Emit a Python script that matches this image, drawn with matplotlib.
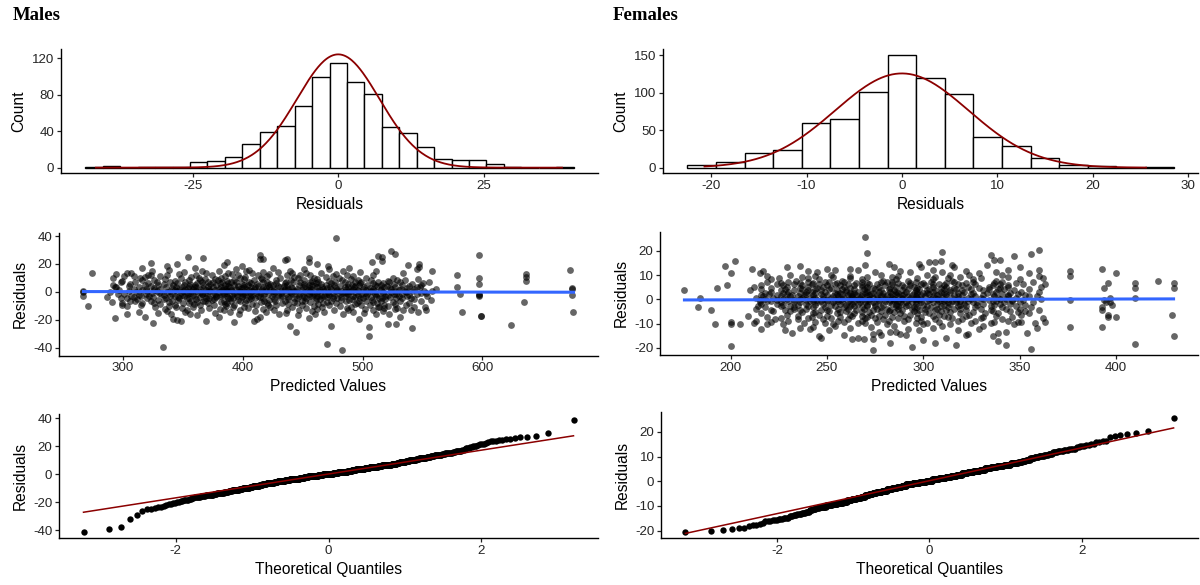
import numpy as np
import matplotlib
matplotlib.use("Agg")
import matplotlib.pyplot as plt
from statistics import NormalDist

plt.rcParams['font.family'] = ['Liberation Sans', 'DejaVu Sans']
plt.rcParams['axes.unicode_minus'] = False

# ---------------------------------------------------------------- data
bin_width = 3

male_bin_centers = [-42, -39, -36, -33, -30, -27, -24, -21, -18, -15, -12, -9, -6, -3,
                    0, 3, 6, 9, 12, 15, 18, 21, 24, 27, 30, 33, 36, 39]
male_bin_counts = [1, 2, 0, 1, 1, 1, 6, 7, 12, 26, 39, 46, 67, 99,
                   115, 94, 81, 44, 38, 23, 10, 8, 8, 4, 1, 0, 0, 1]

female_bin_centers = [-21, -18, -15, -12, -9, -6, -3, 0, 3, 6, 9, 12, 15, 18, 21, 24, 27]
female_bin_counts = [3, 8, 19, 24, 59, 65, 101, 150, 119, 98, 41, 29, 13, 4, 2, 0, 1]

# normal curves drawn over the histograms (mean, sd, peak height)
male_curve = (0.0, 7.1, 124.0)
female_curve = (0.0, 7.0, 125.5)

# residuals as a frequency table (ascending) ; predicted values listed in the same order
male_resid_values = [
    -41.7, -39.5, -37.7, -31.8, -29.0, -26.2,
    -25.25, -24.75, -24.25, -23.75, -23.25, -22.75, -22.25, -21.75, -21.25, -20.75, -20.25, -19.75,
    -19.25, -18.75, -18.25, -17.75, -17.25, -16.75, -16.25, -15.75, -15.25, -14.75, -14.25, -13.75,
    -13.25, -12.75, -12.25, -11.75, -11.25, -10.75, -10.25, -9.75, -9.25, -8.75, -8.25, -7.75,
    -7.25, -6.75, -6.25, -5.75, -5.25, -4.75, -4.25, -3.75, -3.25, -2.75, -2.25, -1.75,
    -1.25, -0.75, -0.25, 0.25, 0.75, 1.25, 1.75, 2.25, 2.75, 3.25, 3.75, 4.25,
    4.75, 5.25, 5.75, 6.25, 6.75, 7.25, 7.75, 8.25, 8.75, 9.25, 9.75, 10.25,
    10.75, 11.25, 11.75, 12.25, 12.75, 13.25, 13.75, 14.25, 14.75, 15.25, 15.75, 16.25,
    16.75, 17.25, 17.75, 18.25, 18.75, 19.25, 19.75, 20.25, 20.75, 21.25, 21.75, 22.25,
    22.75, 23.25, 23.75, 24.25, 24.75, 25.25, 25.75, 26.25, 26.75, 27.25, 29.5, 38.5]
male_resid_counts = [
    1, 1, 1, 1, 1, 1,
    1, 1, 1, 1, 1, 1, 1, 1, 1, 2, 1, 1,
    2, 2, 2, 2, 2, 2, 4, 5, 4, 5, 4, 4,
    6, 7, 6, 7, 6, 7, 7, 8, 7, 8, 8, 8,
    11, 11, 11, 11, 11, 12, 16, 17, 16, 17, 16, 17,
    19, 19, 19, 20, 19, 19, 16, 16, 15, 16, 15, 16,
    13, 14, 13, 14, 13, 14, 7, 8, 7, 8, 7, 7,
    6, 7, 6, 7, 6, 6, 4, 4, 4, 4, 3, 4,
    2, 2, 1, 2, 1, 2, 1, 2, 1, 2, 1, 1,
    1, 2, 1, 2, 1, 1, 1, 1, 1, 1, 1, 1]
male_pred = [
    483, 333, 470, 505, 444, 541,
    505, 439,
    474, 624,
    521, 528,
    325, 393,
    369, 348, 409,
    345, 412,
    342, 497, 293, 455,
    414, 380, 531, 318,
    599, 599, 446, 362,
    340, 484, 303, 522, 397, 460, 356, 511, 430,
    377, 501, 329, 436, 546, 313, 468, 389, 419,
    583, 676, 352, 492, 410, 337, 517, 458,
    553, 426, 488, 365, 534, 398, 447, 540, 476, 384, 509, 353, 437,
    417, 335, 462, 527, 502, 381, 529, 349, 453, 404, 518, 487, 372,
    490, 358, 423, 543, 514, 441, 392, 513, 327, 466, 401, 552, 344,
    271, 303, 459, 386, 521, 338, 481, 411, 364, 499, 428, 315, 536, 376, 449,
    393, 518, 343, 472, 421, 299, 506, 359, 438, 385, 527, 331, 463, 408, 494,
    299, 371, 445, 512, 326, 478, 402, 355, 539, 433, 387, 467, 316, 495, 420, 350,
    635, 470, 338, 415, 509, 291, 456, 382, 525, 362, 443, 398, 486, 323, 549, 427, 367, 503, 310, 452, 390, 474,
    341, 418, 497, 368, 531, 306, 449, 384, 515, 357, 435, 403, 482, 329, 557, 422, 374, 508, 346, 461, 396, 489,
    312, 438, 519, 376, 464, 334, 405, 543, 361, 491, 426, 298, 475, 389, 514, 347, 453, 410, 533, 369, 445, 320, 500,
    353, 479, 407, 528, 336, 461, 392, 516, 303, 443, 372,
    498, 417, 355, 540, 388, 466, 325, 507, 431, 364, 482,
    309, 451, 399, 523, 346, 470, 414, 287, 494, 378, 438,
    267, 597, 360, 486, 413, 530, 339, 458, 395, 511, 322,
    447, 381, 503, 351, 468, 424, 554, 307, 476, 400, 370,
    519, 433, 343, 492, 387, 456, 315, 537, 406, 462, 378,
    597, 675, 429, 358, 496, 383, 521, 334, 450, 408, 472,
    313, 539, 391, 465, 349, 504, 418, 377, 487, 301, 441,
    366, 526, 400, 455, 332, 510, 426, 395, 481, 354, 545,
    581, 597, 436, 319, 488, 402, 533, 366, 459, 384, 512, 341, 471,
    421, 296, 499, 375, 447, 528, 356, 411, 483, 330, 549, 393, 462,
    386, 517, 348, 440, 406, 553, 324, 475, 415, 368, 502, 432,
    267, 427, 353, 494, 380, 517, 311, 458, 403, 536, 364, 485, 439,
    337, 471, 398, 524, 289, 452, 416, 506, 345, 489, 372, 432, 558,
    320, 463, 391, 541, 357, 478, 408, 510, 386, 443, 328, 497, 425,
    267, 350, 482, 419, 535, 373, 456, 305, 508, 398, 444, 339, 490,
    412, 527, 361, 468, 387, 551, 326, 479, 435, 369, 515, 405, 297,
    454, 383, 530, 343, 496, 423, 377, 464, 316, 503, 390, 449,
    675, 435, 358, 500, 409, 524, 331, 467, 394, 543, 372,
    486, 416, 309, 457, 380, 515, 347, 438, 492, 364, 403,
    532, 319, 474, 426, 386, 509, 352, 445, 561, 397,
    675, 478, 341, 419, 523, 367, 455, 399, 506, 326, 441,
    384, 537, 354, 470, 410, 294, 493, 431, 375, 518,
    344, 462, 401, 548, 359, 485, 422, 313, 450, 389,
    579, 293, 466, 382, 527, 349, 440, 407, 501, 336, 473,
    417, 545, 361, 488, 396, 452, 323, 512, 429, 371,
    494, 355, 434, 520, 388, 460, 305, 481, 413, 539,
    292, 447, 378, 515, 342, 469, 404, 533, 360,
    491, 421, 318, 458, 393, 504, 351, 437, 549,
    385, 476, 329, 425, 510, 367, 455, 401, 497,
    597, 423, 356, 488, 399, 526, 334, 465, 412,
    541, 373, 451, 306, 498, 388, 435, 517, 362,
    474, 407, 550, 345, 461, 381, 428, 509, 321,
    448, 366, 513, 394, 477, 328, 436, 555, 383,
    499, 352, 420, 463, 310, 531, 405, 371, 485,
    442, 339, 522, 390, 456, 417, 298, 494, 375,
    636, 299, 458, 387, 521, 343, 472, 409, 535, 364, 496, 428, 316, 451, 379,
    507, 355, 440, 393, 529, 326, 483, 416, 368, 546, 401, 462, 335, 490, 377,
    597, 292, 415, 503, 348, 459, 382, 525, 431, 363, 480, 314, 446, 398,
    636, 469, 357, 318, 402, 443, 331, 492, 385, 301, 420, 309, 475,
    579, 437, 361, 509, 396, 456, 323, 487, 413, 321, 374, 448, 337,
    636, 391, 478, 347, 294, 422, 303, 465, 408, 307, 369, 441,
    274, 453, 388, 534, 417, 351, 498, 429,
    324, 484, 403, 558, 366, 439, 511, 380,
    673, 405, 338, 472, 545, 394, 451,
    316, 489, 425, 360,
    547, 399, 471,
    337, 538, 384,
    547, 462, 345,
    323, 455, 508,
    387, 516,
    435, 437, 414,
    417, 455, 367,
    516, 354,
    513, 414,
    597, 527,
    524,
    478,
]

female_resid_values = [
    -20.7,
    -20.25, -19.75, -19.25, -18.75, -18.25, -17.75, -17.25, -16.75, -16.25, -15.75, -15.25, -14.75,
    -14.25, -13.75, -13.25, -12.75, -12.25, -11.75, -11.25, -10.75, -10.25, -9.75, -9.25, -8.75,
    -8.25, -7.75, -7.25, -6.75, -6.25, -5.75, -5.25, -4.75, -4.25, -3.75, -3.25, -2.75,
    -2.25, -1.75, -1.25, -0.75, -0.25, 0.25, 0.75, 1.25, 1.75, 2.25, 2.75, 3.25,
    3.75, 4.25, 4.75, 5.25, 5.75, 6.25, 6.75, 7.25, 7.75, 8.25, 8.75, 9.25,
    9.75, 10.25, 10.75, 11.25, 11.75, 12.25, 12.75, 13.25, 13.75, 14.25, 14.75, 15.25,
    15.75, 16.25, 17.75, 18.25, 18.75, 19.25, 19.75, 20.25, 25.6]
female_resid_counts = [
    1,
    1, 1, 1, 2, 1, 2, 1, 1, 3, 3, 3, 4,
    3, 3, 4, 4, 4, 4, 4, 4, 10, 10, 10, 10,
    9, 10, 11, 11, 11, 11, 10, 11, 17, 17, 17, 17,
    16, 17, 25, 25, 25, 25, 25, 25, 20, 20, 20, 20,
    19, 20, 16, 17, 16, 17, 16, 16, 7, 7, 7, 7,
    6, 7, 5, 5, 5, 5, 4, 5, 2, 3, 2, 2,
    2, 2, 1, 1, 1, 1, 1, 1, 1]
female_pred = [
    274,
    356, 294,
    200, 343, 317,
    410, 306, 283,
    339, 300,
    263, 269, 274, 247, 266, 312,
    246, 430, 336, 278, 259, 322, 291,
    274, 288, 323, 339, 354, 232,
    283, 286, 277, 343, 251, 298, 228, 318,
    216, 241, 292, 329, 359, 262, 305, 236,
    243, 273, 376, 393, 285, 254, 331, 310,
    200, 205, 219, 300, 192, 227, 253, 281, 314, 347, 238, 266, 296, 325, 212, 270, 335, 249, 302, 358,
    200, 349, 363, 351, 221, 244, 276, 308, 337, 259, 290, 230, 318, 282, 256, 344, 213, 299, 268, 327,
    235, 261, 292, 320, 248, 279, 341, 223, 306, 270, 330, 252, 287, 315, 240, 362, 275, 297, 226,
    400, 396, 257, 284, 313, 242, 331, 271, 299, 219, 346, 263, 305, 235, 290, 322, 250, 277, 338, 209, 311, 268,
    396, 429, 246, 293, 324, 262, 280, 351, 229, 308, 273, 339, 255, 297, 216, 319, 288, 243, 332, 264, 303, 355,
    349, 237, 272, 301, 257, 326, 285, 244, 314, 268, 353, 231, 295, 278, 336, 251, 309, 222, 282, 345, 260,
    190, 393, 250, 283, 312, 236, 298, 265, 335, 221, 274, 306, 247, 322, 289, 360, 228,
    269, 301, 343, 256, 316, 281, 239, 294, 330, 213, 276, 307, 261, 350, 287, 233, 319,
    183, 393, 295, 243, 327, 268, 304, 218, 286, 341, 259, 313, 233, 278, 356, 249, 297,
    322, 226, 271, 309, 287, 254, 335, 214, 291, 262, 318, 240, 348, 275, 302, 231, 264,
    398, 252, 311, 279, 227, 337, 292, 260, 319, 244, 286, 353, 235, 300, 271, 328, 216,
    263, 307, 284, 345, 248, 296, 321, 239, 275, 314, 257, 340, 224, 289, 266, 331,
    395, 397, 236, 288, 317, 253, 305, 270, 342, 226, 294, 261, 326, 245, 282, 357, 215, 299, 274, 313, 233, 350, 267, 291, 328,
    250, 308, 241, 285, 336, 221, 272, 319, 258, 296, 346, 230, 280, 311, 264, 338, 247, 302, 277, 323, 219, 287, 256, 315, 243,
    376, 394, 262, 298, 233, 321, 277, 245, 309, 286, 352, 224, 268, 303, 254, 334, 239, 292, 317, 271, 215, 346, 283, 250, 312,
    229, 296, 264, 340, 258, 307, 236, 280, 325, 248, 299, 361, 218, 289, 272, 331, 243, 304, 266, 318, 227, 285, 256, 343, 295,
    184, 397, 410, 276, 315, 241, 293, 259, 330, 222, 284, 348, 267, 306, 237, 297, 323, 252, 274, 339, 213, 289, 262, 310, 244,
    355, 279, 301, 231, 268, 327, 256, 292, 217, 337, 271, 305, 248, 283, 318, 226, 296, 263, 344, 235, 287, 312, 253, 278, 359,
    281, 238, 316, 265, 299, 224, 344, 272, 307, 250, 289, 331, 216, 294, 261, 320, 243, 276, 353, 232,
    303, 268, 336, 255, 284, 312, 220, 297, 263, 341, 247, 290, 325, 229, 273, 308, 258, 349, 286, 239,
    264, 270, 302, 236, 318, 254, 287, 345, 227, 279, 311, 262, 333, 244, 295, 218, 274, 326, 257, 300,
    239, 351, 283, 266, 314, 230, 291, 338, 249, 305, 221, 277, 360, 260, 321, 242, 297, 271, 309, 286,
    176, 302, 255, 331, 240, 285, 314, 226, 271, 347, 260, 296, 233, 320, 278, 210, 306, 247, 289, 339,
    264, 317, 228, 282, 355, 251, 298, 237, 325, 269, 311, 244, 292, 216, 334, 275, 303, 258, 342,
    193, 394, 410, 430, 274, 309, 245, 329, 262, 297, 221, 340, 283, 252, 316, 236, 290,
    361, 268, 305, 229, 323, 277, 248, 344, 212, 295, 259, 334, 271, 312, 240, 286,
    198, 264, 301, 237, 320, 280, 250, 344, 227, 293, 268, 311, 216, 336, 257, 289, 246,
    327, 272, 305, 233, 352, 284, 261, 318, 224, 299, 242, 340, 276, 308, 254, 363,
    396, 410, 430, 236, 287, 322, 255, 300, 243, 337, 271, 312, 226, 293, 265, 348,
    281, 249, 316, 230, 304, 259, 341, 278, 219, 296, 268, 326, 284, 251, 357, 240,
    422, 258, 315, 279, 234, 338, 292, 246, 326, 268, 305, 221, 350, 286,
    362, 240, 297, 330, 262, 313, 225, 284, 344, 253, 306, 271, 319, 237,
    376, 219, 244, 360, 287, 262, 324, 231, 302, 341, 278, 252, 314,
    400, 200, 329, 355, 215, 245, 293, 310, 275, 338,
    376, 322, 217, 240, 288, 254, 360, 305, 266, 344,
    393, 211, 250, 262, 229, 299, 316, 285, 350,
    197, 236, 270, 315, 333,
    282, 298, 303, 306,
    202, 309, 340, 337,
    347, 335,
    356, 271,
    310, 360,
    270,
]

# axis ticks
male_hist_xticks = [-25, 0, 25]
male_hist_yticks = [0, 40, 80, 120]
female_hist_xticks = [-20, -10, 0, 10, 20, 30]
female_hist_yticks = [0, 50, 100, 150]
male_scatter_xticks = [300, 400, 500, 600]
male_resid_ticks = [-40, -20, 0, 20, 40]
female_scatter_xticks = [200, 250, 300, 350, 400]
female_resid_ticks = [-20, -10, 0, 10, 20]
qq_xticks = [-2, 0, 2]

# ---------------------------------------------------------------- styling
W, H = 1200, 585
fig = plt.figure(figsize=(W / 100, H / 100), dpi=100)
fig.patch.set_facecolor('white')

DARKRED = '#8B0000'
BLUE = '#3366FF'
TICK_COLOR = '#262626'
nd = NormalDist()


def px_axes(left, top, right, bottom):
    return fig.add_axes([left / W, 1 - bottom / H, (right - left) / W, (bottom - top) / H])


def expand(lo, hi, f=0.05):
    d = (hi - lo) * f
    return lo - d, hi + d


def style(ax, xlabel, ylabel, xticks, yticks):
    for s in ('top', 'right'):
        ax.spines[s].set_visible(False)
    for s in ('left', 'bottom'):
        ax.spines[s].set_linewidth(1.0)
        ax.spines[s].set_color('black')
    ax.tick_params(axis='both', which='major', length=2.8, width=0.9, color='#222222',
                   labelsize=9.6, labelcolor=TICK_COLOR, pad=2.0)
    ax.set_xticks(xticks)
    ax.set_yticks(yticks)
    ax.set_xlabel(xlabel, fontsize=11.2, labelpad=3.5, color='black')
    ax.set_ylabel(ylabel, fontsize=11.2, labelpad=4.0, color='black')
    ax.set_facecolor('white')


def prep(values, counts, pred):
    resid = np.repeat(np.asarray(values, float), np.asarray(counts, int))
    pred = np.asarray(pred, float)
    n = min(len(resid), len(pred))
    return pred[:n], resid[:n]


def draw_hist(ax, centers, counts, curve, resid, xticks, yticks):
    centers = np.asarray(centers, float)
    counts = np.asarray(counts, float)
    ax.bar(centers, counts, width=bin_width, color='white', edgecolor='black',
           linewidth=1.0, align='center', zorder=2)
    mean, sd, peak = curve
    xs = np.linspace(resid.min(), resid.max(), 500)
    ax.plot(xs, peak * np.exp(-0.5 * ((xs - mean) / sd) ** 2), color=DARKRED, lw=1.3, zorder=3)
    ax.set_xlim(*expand(centers[0] - bin_width / 2, centers[-1] + bin_width / 2))
    ax.set_ylim(*expand(0, max(counts.max(), peak)))
    style(ax, 'Residuals', 'Count', xticks, yticks)


def draw_scatter(ax, pred, resid, xticks, yticks):
    ax.scatter(pred, resid, s=24, color='black', alpha=0.6, linewidths=0, zorder=2)
    b, a = np.polyfit(pred, resid, 1)
    xs = np.array([pred.min(), pred.max()])
    ax.plot(xs, a + b * xs, color=BLUE, lw=2.2, zorder=3)
    ax.set_xlim(*expand(pred.min(), pred.max()))
    ax.set_ylim(*expand(resid.min(), resid.max()))
    style(ax, 'Predicted Values', 'Residuals', xticks, yticks)


def draw_qq(ax, resid, xticks, yticks):
    srt = np.sort(resid)
    n = len(srt)
    theo = np.array([nd.inv_cdf((i - 0.5) / n) for i in range(1, n + 1)])
    ax.scatter(theo, srt, s=21, color='black', linewidths=0, zorder=2)
    q1, q3 = np.quantile(resid, [0.25, 0.75])
    z1, z3 = nd.inv_cdf(0.25), nd.inv_cdf(0.75)
    slope = (q3 - q1) / (z3 - z1)
    inter = q1 - slope * z1
    xs = np.array([theo.min(), theo.max()])
    ax.plot(xs, inter + slope * xs, color=DARKRED, lw=1.1, zorder=3)
    ax.set_xlim(*expand(theo.min(), theo.max()))
    ax.set_ylim(*expand(srt.min(), srt.max()))
    style(ax, 'Theoretical Quantiles', 'Residuals', xticks, yticks)


m_pred, m_resid = prep(male_resid_values, male_resid_counts, male_pred)
f_pred, f_resid = prep(female_resid_values, female_resid_counts, female_pred)

# ---------------------------------------------------------------- males
ax = px_axes(61, 48.7, 598, 173.3)
draw_hist(ax, male_bin_centers, male_bin_counts, male_curve, m_resid,
          male_hist_xticks, male_hist_yticks)
ax = px_axes(59, 232.6, 598, 355.5)
draw_scatter(ax, m_pred, m_resid, male_scatter_xticks, male_resid_ticks)
ax = px_axes(59, 414.5, 598, 538)
draw_qq(ax, m_resid, qq_xticks, male_resid_ticks)

# ---------------------------------------------------------------- females
ax = px_axes(663, 49.4, 1198, 173.3)
draw_hist(ax, female_bin_centers, female_bin_counts, female_curve, f_resid,
          female_hist_xticks, female_hist_yticks)
ax = px_axes(660, 231.7, 1198, 355.3)
draw_scatter(ax, f_pred, f_resid, female_scatter_xticks, female_resid_ticks)
ax = px_axes(661, 412.4, 1198, 538.1)
draw_qq(ax, f_resid, qq_xticks, female_resid_ticks)

# ---------------------------------------------------------------- titles
fig.text(12.5 / W, 1 - 20.5 / H, 'Males', fontfamily=['Liberation Serif', 'DejaVu Serif'],
         fontweight='bold', fontsize=13.5, va='baseline', ha='left')
fig.text(613 / W, 1 - 20.5 / H, 'Females', fontfamily=['Liberation Serif', 'DejaVu Serif'],
         fontweight='bold', fontsize=13.5, va='baseline', ha='left')

fig.savefig('out.png', dpi=100, facecolor='white')
